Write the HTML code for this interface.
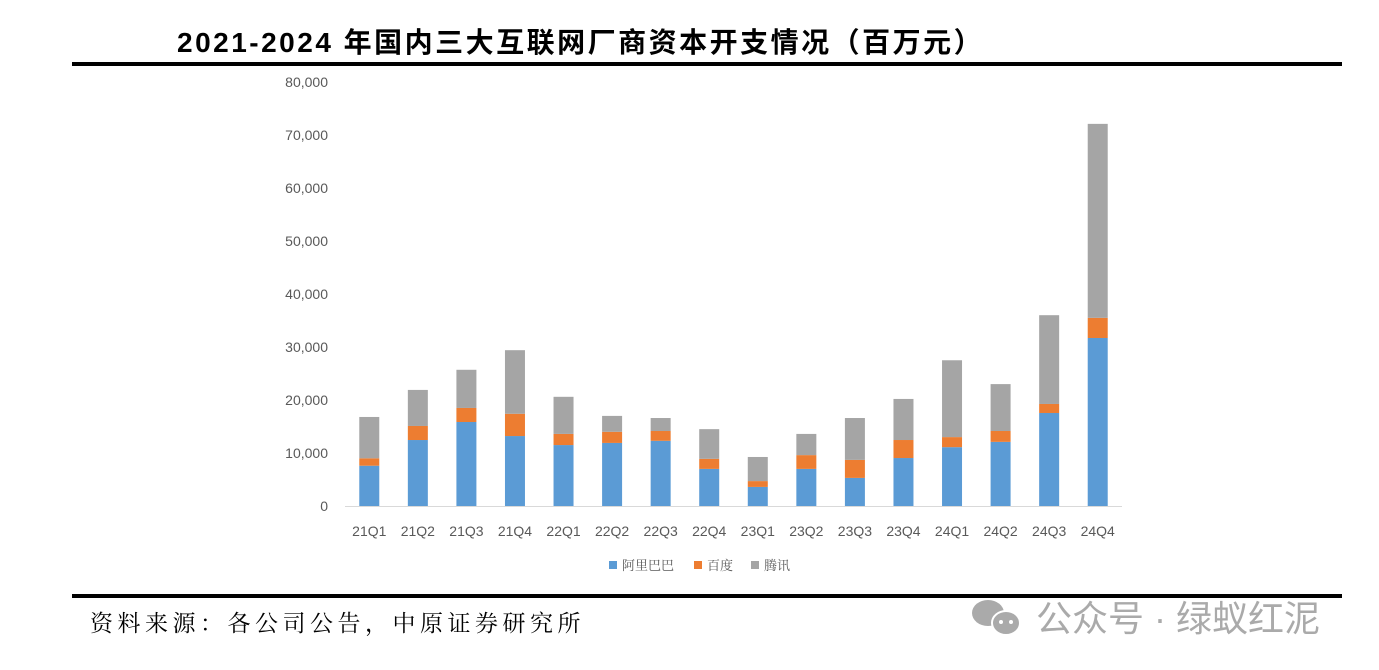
<!DOCTYPE html>
<html><head><meta charset="utf-8"><style>
body{margin:0;width:1379px;height:670px;background:#fff;position:relative;overflow:hidden;font-family:"Liberation Sans","Noto Sans CJK SC",sans-serif}
.t{position:absolute;white-space:nowrap}
</style></head><body>
<div class="t" style="left:177px;top:21px;font-size:28px;font-weight:bold;color:#000;letter-spacing:2.5px">2021-2024 年国内三大互联网厂商资本开支情况（百万元）</div>
<div style="position:absolute;left:72px;top:62px;width:1270px;height:4px;background:#000"></div>
<svg id="chart" width="1379" height="670" style="position:absolute;left:0;top:0"></svg>
<div style="position:absolute;left:72px;top:594px;width:1270px;height:4px;background:#000"></div>
<div class="t" style="left:90px;top:605px;font-size:23px;color:#000;letter-spacing:4.5px;font-family:'Liberation Serif','Noto Serif CJK SC',serif">资料来源：各公司公告，中原证券研究所</div>
<div class="t" style="left:968px;top:590px;font-size:36px;color:#aaa">
<svg width="58" height="44" style="vertical-align:-8px"><ellipse cx="20" cy="18" rx="16" ry="13" fill="#aaa"/><ellipse cx="38" cy="28" rx="14" ry="12" fill="#aaa" stroke="#fff" stroke-width="2"/><circle cx="33" cy="27" r="2" fill="#fff"/><circle cx="43" cy="27" r="2" fill="#fff"/></svg> 公众号 · 绿蚁红泥</div>
<script>
const categories=["21Q1","21Q2","21Q3","21Q4","22Q1","22Q2","22Q3","22Q4","23Q1","23Q2","23Q3","23Q4","24Q1","24Q2","24Q3","24Q4"];
const alibaba=[7600,12450,15850,13200,11500,11900,12300,7000,3600,7000,5300,9050,11100,12100,17550,31700];
const baidu=[1400,2650,2650,4200,2100,2100,1850,1900,1100,2600,3400,3400,1900,2050,1700,3800];
const tencent=[7800,6800,7200,12000,7000,3000,2450,5600,4550,4000,7900,7750,14500,8850,16750,36600];
const yTicks=[0,10000,20000,30000,40000,50000,60000,70000,80000];
const series=[{name:"阿里巴巴",vals:alibaba,color:"#5b9bd5"},{name:"百度",vals:baidu,color:"#ed7d31"},{name:"腾讯",vals:tencent,color:"#a5a5a5"}];
const svg=document.getElementById('chart');const NS="http://www.w3.org/2000/svg";
const y0=506,y1=82,ymax=80000,x0=345,x1=1122;
const y=v=>y0-(v/ymax)*(y0-y1);
const step=(x1-x0)/categories.length;
const xc=i=>x0+step*(i+0.5);
function mk(t,a){const e=document.createElementNS(NS,t);for(const k in a)e.setAttribute(k,a[k]);svg.appendChild(e);return e;}
yTicks.forEach(v=>{const e=mk('text',{x:328,y:y(v)+5,'text-anchor':'end','font-size':14,fill:'#595959','font-family':'Liberation Sans'});e.textContent=v.toLocaleString('en-US');

});
categories.forEach((c,i)=>{let base=0;series.forEach(s=>{const v=s.vals[i];const r=mk('rect',{x:xc(i)-10,y:y(base+v),width:20,height:y(base)-y(base+v),fill:s.color});

base+=v;});
const t=mk('text',{x:xc(i),y:536,'text-anchor':'middle','font-size':14,fill:'#595959','font-family':'Liberation Sans'});t.textContent=c;

});
const ax=mk('line',{x1:x0,x2:x1,y1:y0+0.5,y2:y0+0.5,stroke:'#d9d9d9'});


let lx=609;series.forEach(s=>{const r=mk('rect',{x:lx,y:561,width:8,height:8,fill:s.color});


const t=mk('text',{x:lx+13,y:570,'font-size':13,fill:'#595959','font-family':'Noto Serif CJK SC, serif'});t.textContent=s.name;


lx+=13+s.name.length*14+16;});
</script>
</body></html>
